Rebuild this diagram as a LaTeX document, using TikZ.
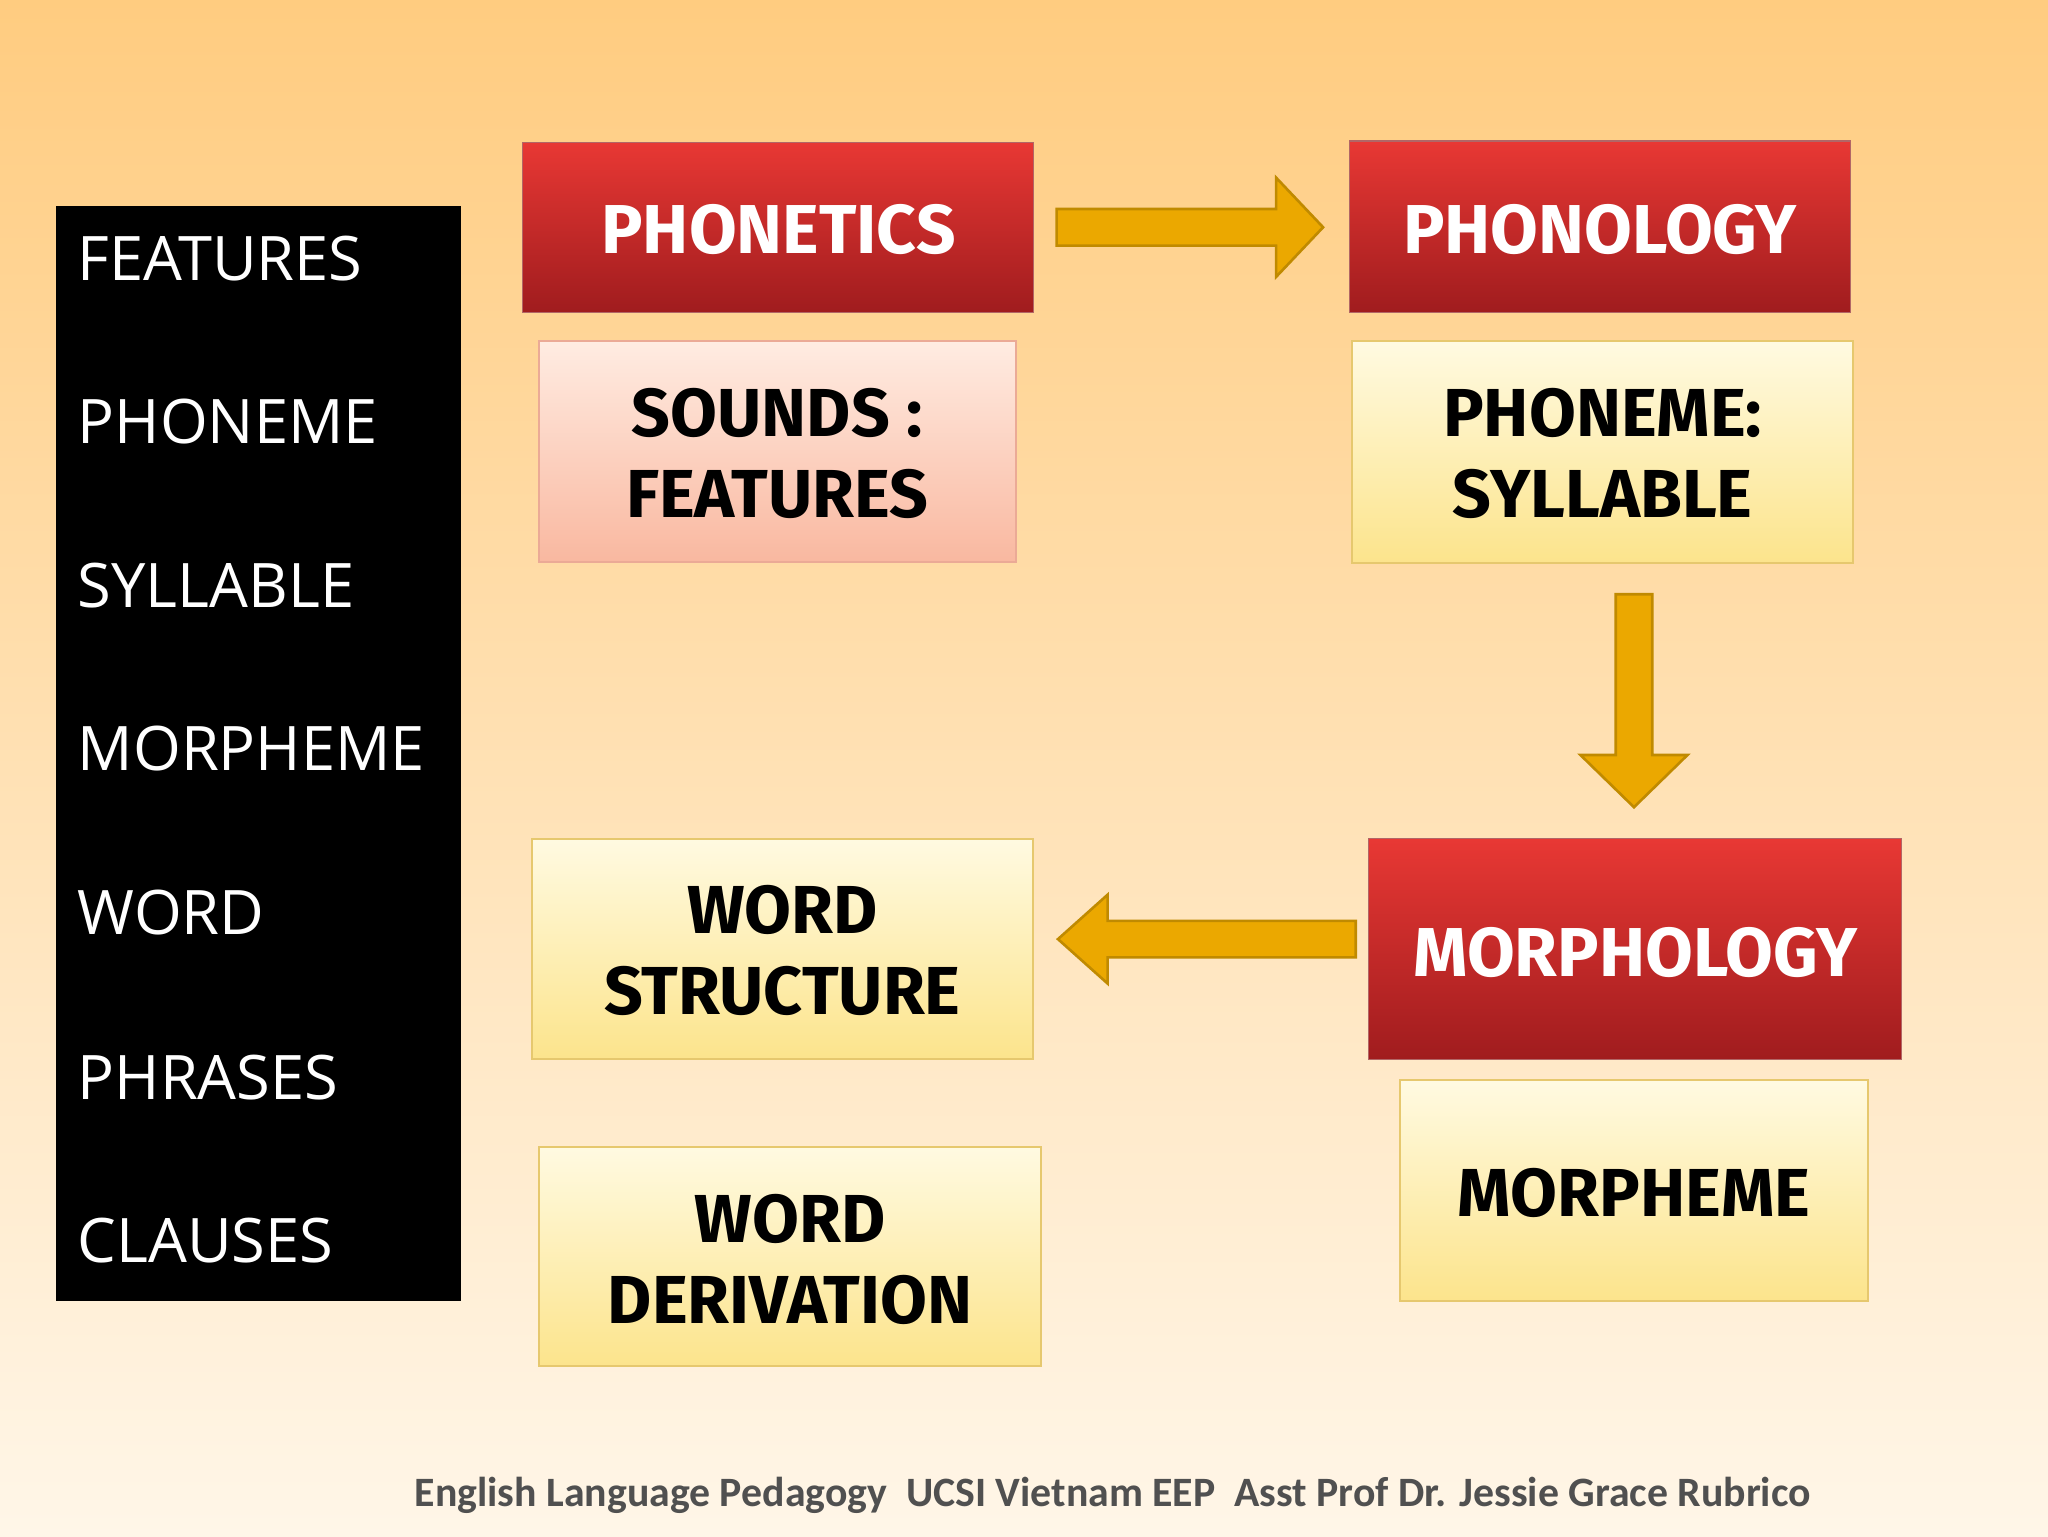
\documentclass[tikz,border=0pt]{standalone}
\usepackage{fontspec}
\setmainfont{Fira Sans}
\newfontfamily\colfont{Open Sans}
\newfontfamily\footfont{Carlito}
\usetikzlibrary{calc}
\definecolor{arrfill}{HTML}{EBA800}
\definecolor{arrdraw}{HTML}{C08A00}
\tikzset{
  redbox/.style={draw=red!50!black!60, line width=1pt, top color={rgb,255:red,232;green,56;blue,52}, bottom color={rgb,255:red,160;green,28;blue,30}},
  yelbox/.style={draw={rgb,255:red,230;green,200;blue,110}, line width=1.5pt, top color={rgb,255:red,255;green,250;blue,225}, bottom color={rgb,255:red,252;green,228;blue,140}},
  pinkbox/.style={draw={rgb,255:red,235;green,170;blue,150}, line width=1.5pt, top color={rgb,255:red,255;green,236;blue,226}, bottom color={rgb,255:red,249;green,184;blue,160}},
  redtext/.style={text=white, font=\fontsize{53}{58}\selectfont\bfseries},
  boxtext/.style={font=\fontsize{52}{62}\selectfont\bfseries, align=center},
  coltext/.style={anchor=west, text=white, font=\colfont\fontsize{47}{50}\selectfont},
  bigarrow/.style={fill=arrfill, draw=arrdraw, line width=2pt, line join=miter}
}
\begin{document}
\begin{tikzpicture}[x=1pt,y=1pt]
\useasboundingbox (0,0) rectangle (1568,-1176);
\shade[top color={rgb,255:red,255;green,204;blue,128}, bottom color={rgb,255:red,255;green,246;blue,232}] (0,0) rectangle (1568,-1176);
% black column
\fill[black] (43,-158) rectangle (353,-996);
\node[coltext] (c1) at (56,-198) {FEATURES};
\node[coltext] (c2) at (56,-323) {PHONEME};
\node[coltext] (c3) at (56,-448) {SYLLABLE};
\node[coltext] (c4) at (56,-573) {MORPHEME};
\node[coltext] (c5) at (56,-699) {WORD};
\node[coltext] (c6) at (56,-825) {PHRASES};
\node[coltext] (c7) at (56,-950) {CLAUSES};
% boxes
\path[redbox] (400,-109) rectangle (791,-239);
\node[redtext] (phonetics) at (596,-176) {PHONETICS};
\path[redbox] (1033,-108) rectangle (1417,-239);
\node[redtext] (phonology) at (1225,-176) {PHONOLOGY};
\path[pinkbox] (413,-261) rectangle (778,-430);
\node[boxtext] (sounds) at (595,-347) {SOUNDS :\\FEATURES};
\path[yelbox] (1035,-261) rectangle (1419,-431);
\node[boxtext] (phsyl) at (1227,-347) {PHONEME:\\SYLLABLE};
\path[redbox] (1048,-642) rectangle (1456,-811);
\node[redtext] (morphology) at (1252,-729) {MORPHOLOGY};
\path[yelbox] (1072,-827) rectangle (1430,-996);
\node[boxtext] (morpheme) at (1251,-913) {MORPHEME};
\path[yelbox] (407,-642) rectangle (791,-811);
\node[boxtext] (wstruct) at (599,-728) {WORD\\STRUCTURE};
\path[yelbox] (413,-878) rectangle (797,-1046);
\node[boxtext] (wderiv) at (605,-964) {WORD\\DERIVATION};
% arrows
\draw[bigarrow] (809,-160) -- (977,-160) -- (977,-136) -- (1013,-174) -- (977,-212) -- (977,-188) -- (809,-188) -- cycle;
\draw[bigarrow] (1237,-455) -- (1265,-455) -- (1265,-578) -- (1292,-578) -- (1251,-618) -- (1210,-578) -- (1237,-578) -- cycle;
\draw[bigarrow] (1038,-705) -- (848,-705) -- (848,-685) -- (810,-719) -- (848,-753) -- (848,-733) -- (1038,-733) -- cycle;
% footer
\node[text={rgb,255:red,80;green,80;blue,80}, font=\footfont\bfseries\fontsize{32}{36}\selectfont] (foot) at (852,-1145) {English Language Pedagogy\ \ UCSI Vietnam EEP\ \ Asst Prof Dr. Jessie Grace Rubrico};
\end{tikzpicture}
\end{document}
